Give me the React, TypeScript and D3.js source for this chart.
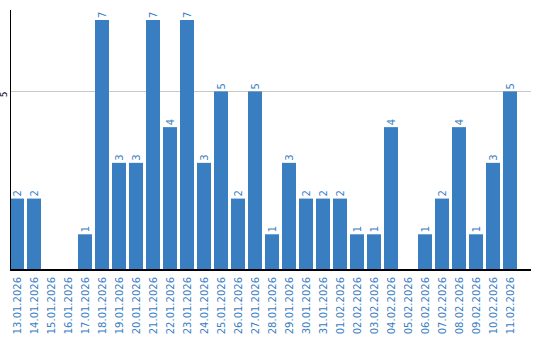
import React from "react";
import * as d3 from "d3";

const dates = [
  "13.01.2026","14.01.2026","15.01.2026","16.01.2026","17.01.2026","18.01.2026","19.01.2026","20.01.2026","21.01.2026","22.01.2026",
  "23.01.2026","24.01.2026","25.01.2026","26.01.2026","27.01.2026","28.01.2026","29.01.2026","30.01.2026","31.01.2026","01.02.2026",
  "02.02.2026","03.02.2026","04.02.2026","05.02.2026","06.02.2026","07.02.2026","08.02.2026","09.02.2026","10.02.2026","11.02.2026",
];
const counts = [2,2,0,0,1,7,3,3,7,4,7,3,5,2,5,1,3,2,2,2,1,1,4,0,1,2,4,1,3,5];
const yTicks = [5];

const W = 540, H = 340;
const left = 10, right = 531, top = 10, base = 270;
const blue = "#3a7ec2";

export default function App() {
  const x = d3.scaleBand<string>().domain(dates).range([left, 517]).paddingInner(3 / 17).paddingOuter(0);
  const y = d3.scaleLinear().domain([0, 7.28]).range([base, top]);
  const bw = x.bandwidth();
  return (
    <svg width={W} height={H} style={{ position: "absolute", left: 0, top: 0 }} fontFamily="DejaVu Sans, Verdana, sans-serif">
      {yTicks.map((t) => (
        <g key={t}>
          <line x1={left + 1} x2={right} y1={Math.round(y(t)) + 0.5} y2={Math.round(y(t)) + 0.5} stroke="#c8c8c8" strokeWidth={1} />
          <text transform={`translate(4,${y(t) + 3}) rotate(-90)`} textAnchor="middle" dy="0.35em" fontSize={9} fill="#000">{t}</text>
        </g>
      ))}
      {dates.map((d, i) => {
        const v = counts[i];
        const cx = (x(d) as number) + bw / 2;
        return (
          <g key={d}>
            {v > 0 && (
              <rect x={x(d)} y={y(v)} width={bw} height={base - y(v)} fill={blue} />
            )}
            {v > 0 && (
              <text transform={`translate(${cx},${y(v) - 2}) rotate(-90)`} dy="0.35em" fontSize={10} fill={blue}>{v}</text>
            )}
            <text transform={`translate(${cx},277) rotate(-90)`} textAnchor="end" dy="0.35em" fontSize={10} fill={blue}>{d}</text>
          </g>
        );
      })}
      <line x1={10.5} x2={10.5} y1={top} y2={base} stroke="#000" strokeWidth={1} />
      <line x1={left} x2={right} y1={270} y2={270} stroke="#000" strokeWidth={2} />
    </svg>
  );
}
